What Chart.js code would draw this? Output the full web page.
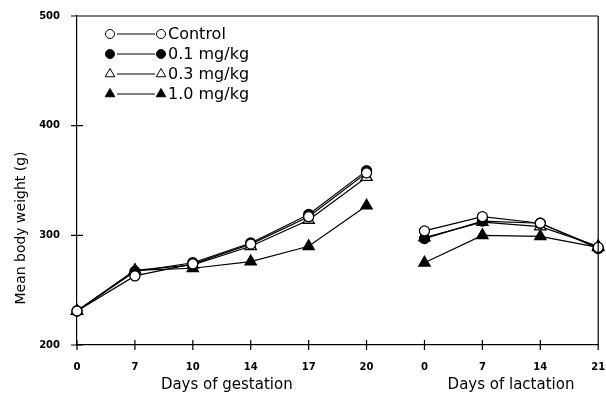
<!DOCTYPE html>
<html>
<head>
<meta charset="utf-8">
<script src="https://cdn.jsdelivr.net/npm/chart.js@4"></script>
<style>
  body { margin: 0; background: #fff; }
</style>
</head>
<body>
<canvas id="grafica" width="606" height="400"></canvas>
<script>
// days on the x axis (gestation then lactation)
var dias = ['0', '7', '10', '14', '17', '20', '0', '7', '14', '21'];
var control = [231, 263, 274, 292, 317, 357, 304, 317, 311, 289];
var dosis01 = [231, 267, 275, 293, 319, 359, 297, 313, 311, 288];
var dosis03 = [231, 268, 273, 290, 314, 353, 298, 312, 308, 290];
var dosis10 = [231, 268, 270, 276, 290, 327, 275, 300, 299, 289];
var yTicks = [200, 300, 400, 500];

var fuente = '"DejaVu Sans", sans-serif';

// no line between day 20 of gestation and day 0 of lactation
const segmento = {
    borderColor: c => c.p0DataIndex === 5 ? 'rgba(0,0,0,0)' : '#000'
};

const serie = (label, data, estilo, relleno) => ({
    label: label,
    data: data,
    borderColor: '#000',
    borderWidth: 1.2,
    pointStyle: estilo,
    pointRadius: estilo === 'triangle' ? 6.5 : 5,
    pointBackgroundColor: relleno,
    pointBorderColor: '#000',
    pointBorderWidth: 1.3,
    tension: 0,
    segment: segmento
});

const series = [
    serie('Control', control, 'circle', '#fff'),
    serie('0.1 mg/kg', dosis01, 'circle', '#000'),
    serie('0.3 mg/kg', dosis03, 'triangle', '#fff'),
    serie('1.0 mg/kg', dosis10, 'triangle', '#000')
];

// ticks crossing the axes, frame, titles and the legend box
const extras = {
    id: 'extras',
    afterDraw(chart) {
        const ctx = chart.ctx;
        const a = chart.chartArea;
        const x = chart.scales.x, y = chart.scales.y;
        ctx.save();
        ctx.strokeStyle = '#000';
        ctx.lineWidth = 1.2;
        ctx.beginPath();
        ctx.moveTo(a.left, a.top); ctx.lineTo(a.right, a.top);
        ctx.moveTo(a.right, a.top); ctx.lineTo(a.right, a.bottom);
        x.ticks.forEach((t, i) => {
            const px = x.getPixelForTick(i);
            ctx.moveTo(px, a.bottom - 5); ctx.lineTo(px, a.bottom + 5);
        });
        yTicks.forEach(v => {
            const py = y.getPixelForValue(v);
            ctx.moveTo(a.left - 6, py); ctx.lineTo(a.left + 6, py);
        });
        ctx.stroke();

        ctx.fillStyle = '#000';
        ctx.font = '15px ' + fuente;
        ctx.textAlign = 'center';
        ctx.textBaseline = 'middle';
        ctx.fillText('Days of gestation', (x.getPixelForTick(0) + x.getPixelForTick(5)) / 2 + 5, 385);
        ctx.fillText('Days of lactation', 511, 385);
        ctx.save();
        ctx.translate(21, 228);
        ctx.rotate(-Math.PI / 2);
        ctx.font = '14px ' + fuente;
        ctx.fillText('Mean body weight (g)', 0, 0);
        ctx.restore();

        // legend
        ctx.font = '16px ' + fuente;
        ctx.textAlign = 'left';
        chart.data.datasets.forEach((ds, i) => {
            const ly = 34 + i * 20;
            ctx.beginPath();
            ctx.lineWidth = 1;
            ctx.moveTo(117, ly); ctx.lineTo(155, ly);
            ctx.stroke();
            [110, 161].forEach(lx => {
                ctx.fillStyle = ds.pointBackgroundColor;
                ctx.strokeStyle = '#000';
                Chart.helpers.drawPoint(ctx, {
                    pointStyle: ds.pointStyle,
                    radius: ds.pointStyle === 'triangle' ? 5.5 : 4.5,
                    borderWidth: 1.3, rotation: 0
                }, lx, ly);
            });
            ctx.fillStyle = '#000';
            ctx.fillText(ds.label, 168, ly + 1);
        });
        ctx.restore();
    }
};

var ctx = document.getElementById('grafica').getContext('2d');
var chart = new Chart(ctx, {
    type: 'line',
    data: { labels: dias, datasets: series },
    options: {
        responsive: false,
        animation: false,
        layout: { padding: { top: 16, right: 5, left: 0, bottom: 0 } },
        plugins: { legend: { display: false }, tooltip: { enabled: false } },
        scales: {
            x: {
                offset: false,
                grid: { display: false },
                border: { display: true, color: '#000', width: 1.2 },
                ticks: { color: '#000', font: { family: fuente, size: 10, weight: 'bold' }, padding: 8, maxRotation: 0, autoSkip: false },
                afterFit: s => { s.height = 55; s.paddingLeft = 0; s.paddingRight = 0; }
            },
            y: {
                min: 200,
                max: 500,
                afterBuildTicks: s => { s.ticks = yTicks.map(v => ({ value: v })); },
                grid: { display: false },
                border: { display: true, color: '#000', width: 1.2 },
                ticks: { color: '#000', font: { family: fuente, size: 10, weight: 'bold' }, padding: 9 },
                afterFit: s => { s.width = 77; }
            }
        }
    },
    plugins: [extras]
});
</script>
</body>
</html>
